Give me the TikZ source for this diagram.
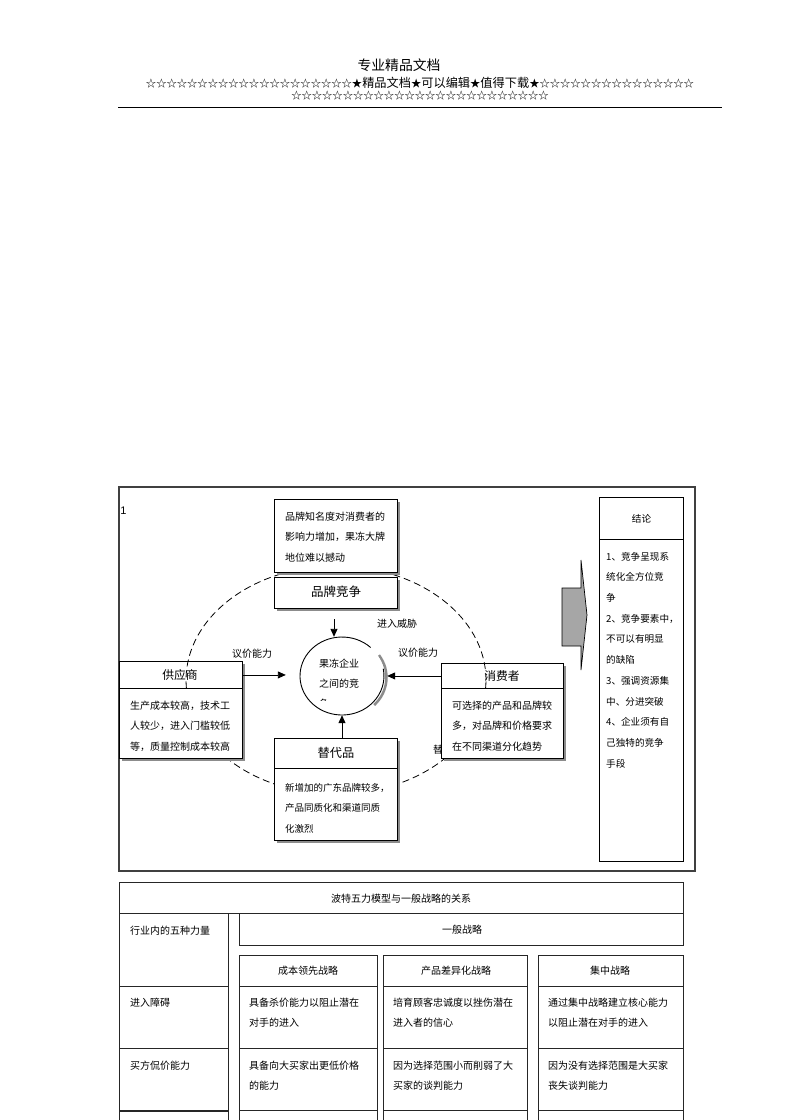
\documentclass[tikz,border=0pt]{standalone}
\usepackage{fontspec}
\newfontfamily\cjk{Noto Sans CJK SC}
\newfontfamily\lat{Liberation Sans}
\usetikzlibrary{arrows.meta,shadows,shapes.geometric,calc}
\newcommand\myszA{\fontsize{10.3}{12}\selectfont}
\newcommand\myszB{\fontsize{12.2}{12}\selectfont}
\begin{document}
\begin{tikzpicture}[x=1pt,y=-1pt,
  every node/.style={inner sep=0pt},
  shbox/.style={draw=black, line width=0.9pt, fill=white, anchor=north west,
    drop shadow={shadow xshift=3pt, shadow yshift=-3pt, fill=black!45, opacity=1}},
  cell/.style={draw=black!85, line width=0.8pt, anchor=north west},
  para/.style={anchor=north west, align=left, font=\cjk\fontsize{10}{20.6}\selectfont},
  tpara/.style={anchor=north west, align=left, font=\cjk\fontsize{10}{20.4}\selectfont},
  lbl/.style={font=\cjk\fontsize{10}{12}\selectfont},
  ttl/.style={font=\cjk\fontsize{11.8}{14}\selectfont},
  arr/.style={-{Triangle[length=8pt,width=7pt]}, line width=0.9pt},
  ring/.style={dash pattern=on 7pt off 4pt, line width=0.8pt}]
\useasboundingbox[fill=white] (0,0) rectangle (792,1120);

% ---------- header ----------
\node[font=\cjk\fontsize{13.8}{14}\selectfont] (hd) at (399,65) {专业精品文档};
\node[font=\cjk] (st1) at (420,83) {{\myszA ☆☆☆☆☆☆☆☆☆☆☆☆☆☆☆☆☆☆☆☆★}{\myszB 精品文档}{\myszA ★}{\myszB 可以编辑}{\myszA ★}{\myszB 值得下载}{\myszA ★☆☆☆☆☆☆☆☆☆☆☆☆☆☆☆}};
\node[font=\cjk\myszA] (st2) at (420,96) {☆☆☆☆☆☆☆☆☆☆☆☆☆☆☆☆☆☆☆☆☆☆☆☆☆};
\draw[line width=1pt] (118,107) -- (722,107);

% ---------- diagram frame ----------
\draw[line width=1.6pt, black!75] (119,487) rectangle (695,871);
\node[font=\lat\fontsize{11}{12}\selectfont] (one) at (123.5,511) {1};

% titles crossed by the dashed ring
\node[shbox, minimum width=123pt, minimum height=27pt] (supT) at (119,661) {};
\node[shbox, minimum width=122pt, minimum height=25pt] (conT) at (441,663) {};
\begin{scope}
  \clip (428,740) rectangle (440.5,760);
  \node[lbl, anchor=west] (thr2) at (433,750) {替};
\end{scope}

% dashed ring
\draw[ring] (336,680) ellipse [x radius=150pt, y radius=114pt];

% boxes
\node[shbox, minimum width=123pt, minimum height=73pt] (top) at (274,499) {};
\node[shbox, minimum width=123pt, minimum height=31pt] (brand) at (274,577) {};
\node[shbox, minimum width=123pt, minimum height=70pt] (supB) at (119,688) {};
\node[shbox, minimum width=122pt, minimum height=70pt] (conB) at (441,688) {};
\node[shbox, minimum width=123pt, minimum height=30pt] (subT) at (274,738) {};
\node[shbox, minimum width=123pt, minimum height=72pt] (subB) at (274,768) {};

% box texts
\node[para] (topTx) at (285,511.6) {品牌知名度对消费者的\\影响力增加，果冻大牌\\地位难以撼动};
\node[ttl, font=\cjk\fontsize{12.5}{14}\selectfont] (brandTx) at (336,592) {品牌竞争};
\node[ttl] (supTx) at (180,675.5) {供应商};
\node[para] (supTx2) at (130,700.6) {生产成本较高，技术工\\人较少，进入门槛较低\\等，质量控制成本较高};
\node[ttl] (conTx) at (502,676.5) {消费者};
\node[para] (conTx2) at (452,700.6) {可选择的产品和品牌较\\多，对品牌和价格要求\\在不同渠道分化趋势};
\node[ttl, font=\cjk\fontsize{12.2}{14}\selectfont] (subTx) at (336,753) {替代品};
\node[para, font=\cjk\fontsize{9.5}{20.5}\selectfont] (subTx2) at (285,782.8) {新增加的广东品牌较多，\\产品同质化和渠道同质\\化激烈};

% centre circle
\node[ellipse, minimum width=84pt, minimum height=78pt] (core) at (342,676) {};
\draw[black!45, line width=2.5pt] ($(core.center)+(2.5pt,-1.5pt)+(34.4pt,22.4pt)$) arc[start angle=35, end angle=-45, x radius=42pt, y radius=39pt];
\fill[white] (core.center) ellipse [x radius=42pt, y radius=39pt];
\draw[line width=0.9pt] ($(core.center)+(28.64pt,28.52pt)$) arc[start angle=47, end angle=371, x radius=42pt, y radius=39pt];
\node[para] (coreTx) at (319,658.6) {果冻企业\\之间的竞};
\begin{scope}
  \clip (315,694) rectangle (335,700.5);
  \node[lbl] (coreTx3) at (324,704) {争};
\end{scope}

% connectors
\coordinate (thrTop) at (334,619);
\draw[arr] (thrTop) -- (thrTop |- core.north);
\draw[arr] (supT.east) -- ([xshift=-14pt]supT.east -| core.west);
\draw[arr] (conT.west) -- ([xshift=3pt]conT.west -| core.east);
\draw[arr] (core |- subT.north) -- (core.south);
\node[lbl] (bargL) at (252,654) {议价能力};
\node[lbl] (bargR) at (418,653) {议价能力};
\node[lbl] (thr) at (397,624) {进入威胁};

% big arrow
\filldraw[fill=black!35, draw=black, line width=0.7pt] (562,588) -- (581,588) -- (581,560) -- (587,615) -- (581,670) -- (581,646) -- (562,646) -- cycle;

% conclusion
\node[draw=black, line width=1pt, anchor=north west, minimum width=84pt, minimum height=42pt] (cH) at (599,497) {};
\node[draw=black, line width=1pt, anchor=north west, minimum width=84pt, minimum height=322pt] (cB) at (599,539) {};
\node[lbl, font=\cjk\fontsize{9.6}{12}\selectfont] (cHtx) at (cH.center) {结论};
\node[para, font=\cjk\fontsize{9.6}{20.7}\selectfont] (cBtx) at (606,551.8) {1、竞争呈现系\\统化全方位竞\\争\\2、竞争要素中，\\不可以有明显\\的缺陷\\3、强调资源集\\中、分进突破\\4、企业须有自\\己独特的竞争\\手段};

% ---------- table ----------
\node[cell, minimum width=564pt, minimum height=31pt] (tT) at (119,882) {};
\node[lbl] (tTtx) at (401,899) {波特五力模型与一般战略的关系};
\node[cell, minimum width=109pt, minimum height=73pt] (L1) at (119,913) {};
\node[cell, minimum width=109pt, minimum height=62pt] (L2) at (119,986) {};
\node[cell, minimum width=109pt, minimum height=62pt] (L3) at (119,1048) {};
\node[cell, minimum width=109pt, minimum height=40pt] (L4) at (119,1111) {};
\node[cell, minimum width=444pt, minimum height=32pt] (gen) at (239,913) {};
\node[lbl] (gentx) at (462,930) {一般战略};
\node[cell, minimum width=138pt, minimum height=31pt] (H1) at (239,955) {};
\node[cell, minimum width=144pt, minimum height=31pt] (H2) at (383,955) {};
\node[cell, minimum width=145pt, minimum height=31pt] (H3) at (538,955) {};
\node[cell, minimum width=138pt, minimum height=62pt] (A1) at (239,986) {};
\node[cell, minimum width=144pt, minimum height=62pt] (A2) at (383,986) {};
\node[cell, minimum width=145pt, minimum height=62pt] (A3) at (538,986) {};
\node[cell, minimum width=138pt, minimum height=62pt] (B1) at (239,1048) {};
\node[cell, minimum width=144pt, minimum height=62pt] (B2) at (383,1048) {};
\node[cell, minimum width=145pt, minimum height=62pt] (B3) at (538,1048) {};
\node[cell, minimum width=138pt, minimum height=40pt] (C1) at (239,1110) {};
\node[cell, minimum width=144pt, minimum height=40pt] (C2) at (383,1110) {};
\node[cell, minimum width=145pt, minimum height=40pt] (C3) at (538,1110) {};

\node[lbl] (H1tx) at (308,971) {成本领先战略};
\node[lbl] (H2tx) at (456,971) {产品差异化战略};
\node[lbl] (H3tx) at (610,971) {集中战略};
\node[tpara] (L1tx) at (130,925.6) {行业内的五种力量};
\node[tpara] (L2tx) at (130,997.6) {进入障碍};
\node[tpara] (L3tx) at (130,1060.6) {买方侃价能力};
\node[tpara] (A1tx) at (249,997.6) {具备杀价能力以阻止潜在\\对手的进入};
\node[tpara] (A2tx) at (393,997.6) {培育顾客忠诚度以挫伤潜在\\进入者的信心};
\node[tpara] (A3tx) at (548,997.6) {通过集中战略建立核心能力\\以阻止潜在对手的进入};
\node[tpara] (B1tx) at (249,1060.6) {具备向大买家出更低价格\\的能力};
\node[tpara] (B2tx) at (393,1060.6) {因为选择范围小而削弱了大\\买家的谈判能力};
\node[tpara] (B3tx) at (548,1060.6) {因为没有选择范围是大买家\\丧失谈判能力};
\end{tikzpicture}
\end{document}
